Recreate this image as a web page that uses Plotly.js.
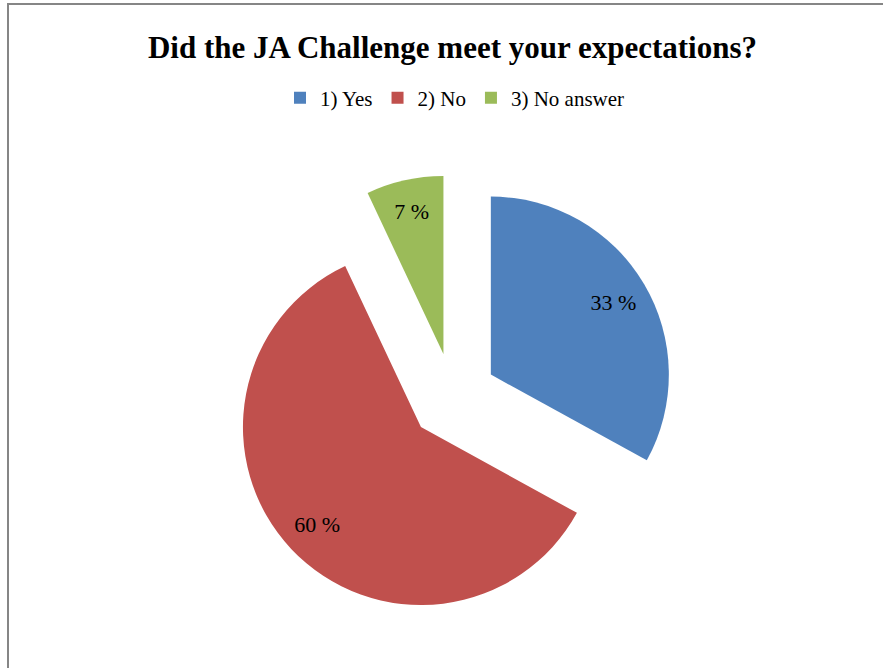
<!DOCTYPE html>
<html>
<head>
<meta charset="utf-8">
<script src="https://cdn.plot.ly/plotly-3.0.1.min.js"></script>
<style>html,body{margin:0;padding:0;background:#fff;}#chart{width:883px;height:668px;}</style>
</head>
<body>
<div id="chart"></div>
<script>
const categories = ["1) Yes", "2) No", "3) No answer"];
const values = [33, 60, 7];
const colors = ["#4F81BD", "#C0504D", "#9BBB59"];
const chartTitle = "Did the JA Challenge meet your expectations?";

const W = 883, H = 668;
const cx = 453, cy = 397, R = 178, pull = 0.247;
const half = R * (1 + pull);
const domain = {
  x: [(cx - half) / W, (cx + half) / W],
  y: [1 - (cy + half) / H, 1 - (cy - half) / H]
};

// Slices
const pieTrace = {
  type: "pie",
  labels: categories,
  values: values,
  sort: false,
  direction: "clockwise",
  rotation: 0,
  pull: [pull, pull, pull],
  marker: {colors: colors, line: {width: 0}},
  textinfo: "none",
  hoverinfo: "label+value",
  domain: domain
};

// Transparent ring carrying the data labels near the outer part of each slice
const labelTrace = {
  type: "pie",
  labels: categories,
  values: values,
  sort: false,
  direction: "clockwise",
  rotation: 0,
  hole: 0.6,
  pull: [pull, pull, pull],
  marker: {colors: ["rgba(0,0,0,0)", "rgba(0,0,0,0)", "rgba(0,0,0,0)"], line: {width: 0}},
  texttemplate: "%{value} %",
  textposition: "inside",
  insidetextorientation: "horizontal",
  textfont: {family: "Liberation Serif", size: 22, color: "#000"},
  hoverinfo: "skip",
  showlegend: false,
  domain: domain
};

const layout = {
  width: W, height: H,
  margin: {l: 0, r: 0, t: 0, b: 0},
  paper_bgcolor: "#fff",
  title: {
    text: "<b>" + chartTitle + "</b>",
    font: {family: "Liberation Serif", size: 31, color: "#000"},
    x: 452.5 / W, xanchor: "center", xref: "paper",
    y: 1 - 47 / H, yanchor: "middle", yref: "container"
  },
  showlegend: true,
  legend: {
    orientation: "h",
    x: 455 / W, xanchor: "center",
    y: 1 - 98 / H, yanchor: "middle",
    font: {family: "Liberation Serif", size: 21, color: "#000"},
    itemwidth: 30,
    traceorder: "normal"
  },
  shapes: [{
    type: "rect", xref: "paper", yref: "paper",
    x0: 8 / W, x1: 1.05, y0: -0.05, y1: 1 - 4 / H,
    line: {color: "#868686", width: 2}, fillcolor: "rgba(0,0,0,0)", layer: "below"
  }]
};

Plotly.newPlot("chart", [pieTrace, labelTrace], layout, {displayModeBar: false, staticPlot: true});
</script>
</body>
</html>
